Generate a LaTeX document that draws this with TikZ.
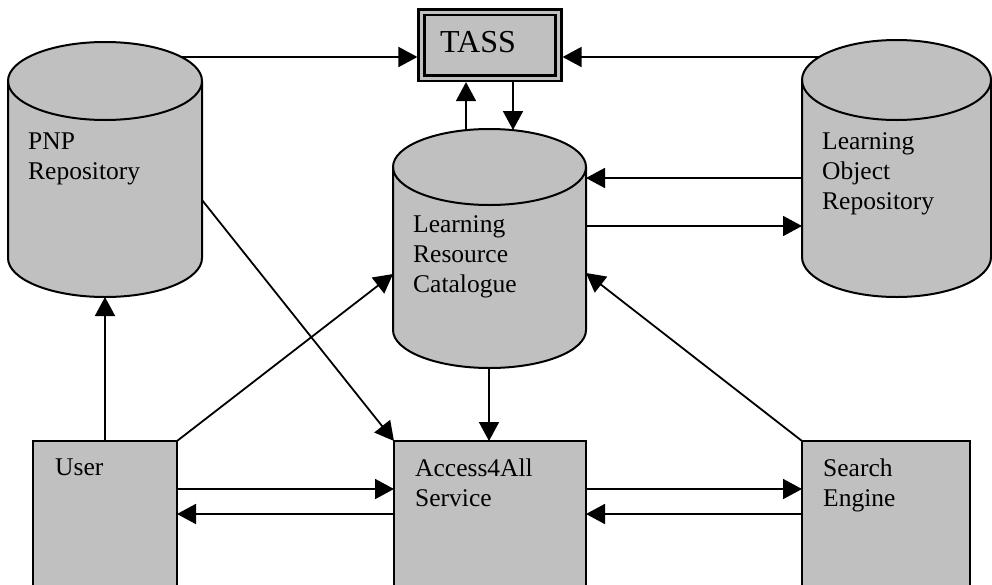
\documentclass[tikz,border=0pt]{standalone}
\usepackage{fontspec}
\setmainfont{Liberation Serif}
\usetikzlibrary{arrows.meta}
\definecolor{cgray}{RGB}{192,192,192}
% cylinder: #1 left x, #2 right x, #3 top-ellipse centre y, #4 y where sides end, #5 y radius
\newcommand{\drawcyl}[5]{%
  \pgfmathsetmacro{\crx}{(#2-#1)/2}%
  \filldraw[cyl] (#1,-#3) -- (#1,-#4)
    arc[start angle=180,end angle=360,x radius=\crx,y radius=#5]
    -- (#2,-#3)
    arc[start angle=0,end angle=180,x radius=\crx,y radius=#5] -- cycle;
  \draw[cyl,fill=none] (#1,-#3)
    arc[start angle=180,end angle=360,x radius=\crx,y radius=#5];
}
\begin{document}
\begin{tikzpicture}[x=1pt,y=1pt,
  cyl/.style={draw=black, line width=2pt, fill=cgray},
  boxst/.style={draw=black, line width=1.8pt, fill=cgray, anchor=north west,
                inner sep=0pt, outer sep=0pt},
  lbl/.style={anchor=north west, inner sep=0pt, align=left,
              font=\fontsize{25.5}{30}\selectfont},
  conn/.style={line width=1.8pt, -{Triangle[length=19pt,width=20pt]}}]
\useasboundingbox (0,0) rectangle (992,-584);
\clip (0,0) rectangle (992,-584);

% cylinders
\drawcyl{8}{202}{81}{258}{39}
\drawcyl{393}{586}{167}{330}{38}
\drawcyl{802}{991}{80}{257}{40}

% connection points on the cylinders
\coordinate (pnpT) at (181,-57);
\coordinate (pnpB) at (105,-297);
\coordinate (pnpR) at (202,-200);
\coordinate (lrcTL) at (466,-130);
\coordinate (lrcTR) at (513,-130);
\coordinate (lrcL) at (393,-274);
\coordinate (lrcR1) at (586,-178);
\coordinate (lrcR2) at (586,-226);
\coordinate (lrcRs) at (586,-273);
\coordinate (lrcB) at (489,-368);
\coordinate (lorT) at (819,-57);
\coordinate (lorL1) at (802,-178);
\coordinate (lorL2) at (802,-226);
\coordinate (rowA) at (0,-489);
\coordinate (rowB) at (0,-514);

% TASS
\node[draw=black, fill=cgray, line width=2.6pt, double=cgray, double distance=3pt,
      minimum width=137pt, minimum height=66pt, inner sep=0pt, outer sep=4.1pt]
      (tass) at (490,-45) {};
\node[anchor=base west, inner sep=0pt, font=\fontsize{32}{36}\selectfont]
      (tasstxt) at (440,-52) {TASS};

% boxes
\node[boxst, minimum width=144pt, minimum height=170pt] (user) at (33,-441) {};
\node[boxst, minimum width=192pt, minimum height=170pt] (acc) at (394,-441) {};
\node[boxst, minimum width=168pt, minimum height=170pt] (srch) at (802,-441) {};

% labels
\node[lbl] (pnptxt) at (28,-133) {PNP\\Repository};
\node[lbl] (lrctxt) at (413,-215.5) {Learning\\Resource\\Catalogue};
\node[lbl] (lortxt) at (822,-132.5) {Learning\\Object\\Repository};
\node[lbl] (usertxt) at (55,-459) {User};
\node[lbl] (acctxt) at (415,-458.5) {Access4All\\Service};
\node[lbl] (srchtxt) at (823,-459) {Search\\Engine};

% connectors
\draw[conn] (pnpT) -- (tass.west |- pnpT);
\draw[conn] (lorT) -- (tass.east |- lorT);
\draw[conn] (lrcTL) -- (tass.south -| lrcTL);
\draw[conn] (tass.south -| lrcTR) -- (lrcTR);
\draw[conn] (lorL1) -- (lrcR1);
\draw[conn] (lrcR2) -- (lorL2);
\draw[conn] (user.north) -- (pnpB);
\draw[conn] (user.north east) -- (lrcL);
\draw[conn] (pnpR) -- (acc.north west);
\draw[conn] (lrcB) -- (acc.north -| lrcB);
\draw[conn] (srch.north west) -- (lrcRs);
\draw[conn] (user.east |- rowA) -- (acc.west |- rowA);
\draw[conn] (acc.west |- rowB) -- (user.east |- rowB);
\draw[conn] (acc.east |- rowA) -- (srch.west |- rowA);
\draw[conn] (srch.west |- rowB) -- (acc.east |- rowB);
\end{tikzpicture}
\end{document}
